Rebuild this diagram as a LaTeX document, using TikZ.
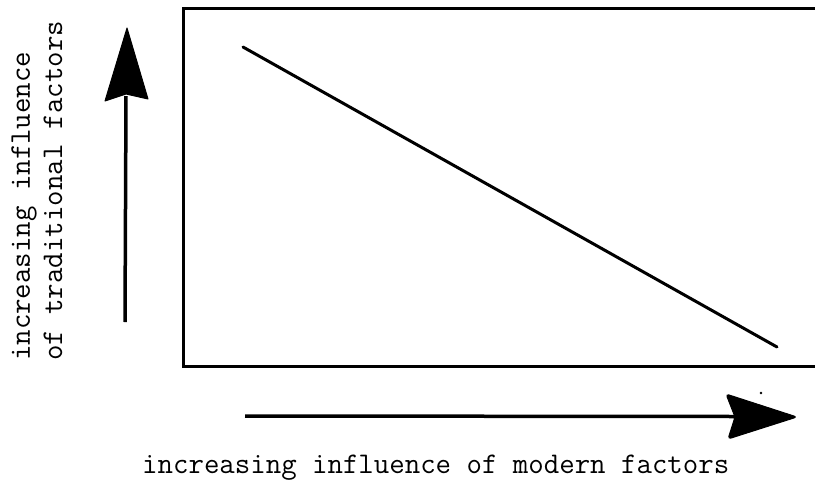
\documentclass[tikz,border=0pt]{standalone}
\begin{document}
\begin{tikzpicture}[x=1pt,y=-1pt,
  lbl/.style={inner sep=0pt,font=\fontsize{30}{32}\selectfont\ttfamily},
  frame/.style={line width=3pt,line join=miter},
  heavy/.style={line width=3.5pt},
  headfill/.style={fill=black,draw=black,line width=1pt,line join=round}]
\useasboundingbox (0,0) rectangle (815,480);
% frame
\coordinate (tr) at (816,8);
\coordinate (tl) at (183,8);
\coordinate (bl) at (183,366);
\coordinate (br) at (816,366);
\draw[frame] (tr) -- (tl) -- (bl) -- (br);
% diagonal
\coordinate (d1) at (243,47);
\coordinate (d2) at (777,347);
\draw[line width=3pt,line cap=round] (d1) -- (d2);
% vertical arrow
\coordinate (vs) at (125,322);
\coordinate (ve) at (126,96);
\draw[heavy] (vs) -- (ve);
\fill[headfill] (127,28) -- (148,99) -- (126,94) -- (105,101) -- cycle;
% horizontal arrow
\coordinate (hs) at (245,416);
\coordinate (he) at (735,416.5);
\draw[heavy] (hs) -- (he);
\fill[headfill,rounded corners=3pt] (797,417) -- (726,394) -- (735,417) -- (728,439) -- cycle;
% speck
\fill (761,393) circle (1.4pt);
% labels
\node[lbl,rotate=90,anchor=base west] (l1) at (30,361) {increasing influence};
\node[lbl,rotate=90,anchor=base west] (l2) at (62,361) {of traditional factors};
\node[lbl,anchor=base west] (l3) at (142,473) {increasing influence of modern factors};
\end{tikzpicture}
\end{document}
